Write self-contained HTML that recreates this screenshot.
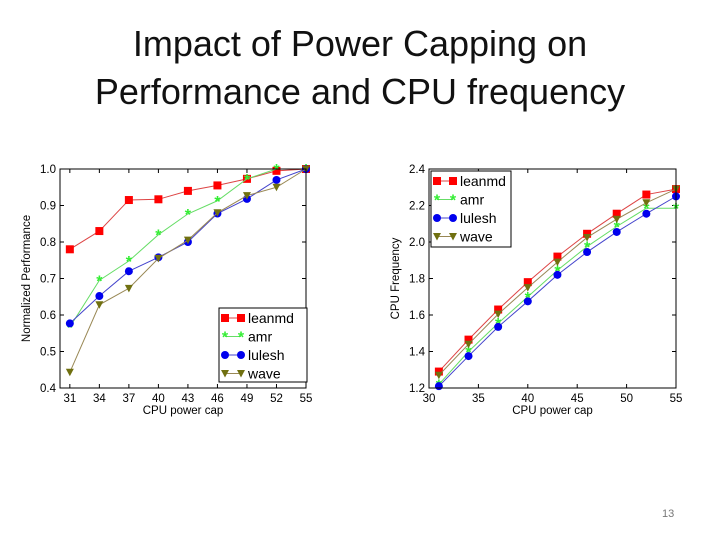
<!DOCTYPE html>
<html><head><meta charset="utf-8"><style>
body{margin:0;background:#fff;width:720px;height:540px;overflow:hidden;font-family:"Liberation Sans",sans-serif}
.t{position:absolute;left:0;width:720px;text-align:center;font-size:36px;color:#111}
</style></head><body>
<div class="t" style="top:20px;line-height:48px">Impact of Power Capping on<br>Performance and CPU frequency</div>
<div style="position:absolute;left:662px;top:508px;font-size:11px;color:#777">13</div>
<svg id="s" width="720" height="540" style="position:absolute;left:0;top:0"></svg>
<script>
const caps=[31,34,37,40,43,46,49,52,55];
const seriesNames=["leanmd","amr","lulesh","wave"];
const perfLeanmd=[0.78,0.83,0.915,0.917,0.94,0.955,0.973,0.995,1.0];
const perfAmr=[0.567,0.695,0.748,0.82,0.877,0.913,0.973,1.0,1.0];
const perfLulesh=[0.577,0.652,0.72,0.758,0.80,0.878,0.918,0.97,1.0];
const perfWave=[0.443,0.628,0.673,0.755,0.805,0.88,0.927,0.95,1.0];
const freqLeanmd=[1.29,1.465,1.63,1.78,1.92,2.045,2.155,2.26,2.29];
const freqAmr=[1.22,1.40,1.555,1.70,1.845,1.975,2.085,2.185,2.185];
const freqLulesh=[1.21,1.375,1.535,1.675,1.82,1.945,2.055,2.155,2.25];
const freqWave=[1.27,1.44,1.605,1.75,1.89,2.025,2.125,2.215,2.29];
const perfTicks=["0.4","0.5","0.6","0.7","0.8","0.9","1.0"];
const freqTicks=["1.2","1.4","1.6","1.8","2.0","2.2","2.4"];
const perfXTicks=[31,34,37,40,43,46,49,52,55];
const freqXTicks=[30,35,40,45,50,55];
const colors=["#ff0000","#33ee33","#0000ee","#707010"];
const lineCol=["#dd4444","#66dd66","#4444cc","#998855"];
const svg=document.getElementById('s');
const NS="http://www.w3.org/2000/svg";
function mk(tag,attrs,parent){const e=document.createElementNS(NS,tag);for(const k in attrs)e.setAttribute(k,attrs[k]);(parent||svg).appendChild(e);return e;}
function marker(g,i,x,y){
  if(i===0) return mk('rect',{x:x-4,y:y-4,width:8,height:8,fill:colors[0]},g);
  if(i===1) {const t=mk('text',{x:x,y:y+6,'text-anchor':'middle','font-size':16,'font-weight':'bold',fill:colors[1]},g);t.textContent='*';return t;}
  if(i===2) return mk('circle',{cx:x,cy:y,r:4,fill:colors[2]},g);
  return mk('path',{d:`M${x-4},${y-3.5}L${x+4},${y-3.5}L${x},${y+4}Z`,fill:colors[3]},g);
}
function chart(name,L,R,T,B,ymin,ymax,yt,xt,data,ylabel,leg){
  const g=mk('g',{});
  
  
  const sx=v=>L+(v-30)/(55-30)*(R-L);
  const sy=v=>B-(v-ymin)/(ymax-ymin)*(B-T);
  yt.forEach(s=>{const v=+s,y=sy(v);
    mk('line',{x1:L,x2:L+4,y1:y,y2:y,stroke:'#000'},g);mk('line',{x1:R-4,x2:R,y1:y,y2:y,stroke:'#000'},g);
    const t=mk('text',{x:L-4,y:y+4,'text-anchor':'end','font-size':11.5},g);t.textContent=s;
    });
  xt.forEach(v=>{const x=sx(v);
    mk('line',{x1:x,x2:x,y1:B,y2:B-4,stroke:'#000'},g);mk('line',{x1:x,x2:x,y1:T,y2:T+4,stroke:'#000'},g);
    const t=mk('text',{x:x,y:B+14,'text-anchor':'middle','font-size':11.5},g);t.textContent=v;
    });
  data.forEach((arr,i)=>{
    const p=mk('polyline',{points:arr.map((v,j)=>sx(caps[j])+','+sy(v)).join(' '),fill:'none',stroke:lineCol[i],'stroke-width':1},g);
    
    arr.forEach((v,j)=>{const m=marker(g,i,sx(caps[j]),sy(v));
      });
  });
  mk('rect',{x:L,y:T,width:R-L,height:B-T,fill:'none',stroke:'#000'},g);
  const xl=mk('text',{x:(L+R)/2,y:B+26,'text-anchor':'middle','font-size':11.5},g);xl.textContent='CPU power cap';
  
  const cy=(T+B)/2,cx=L-30;
  const yl=mk('text',{x:cx,y:cy,'text-anchor':'middle','font-size':11.5,transform:`rotate(-90 ${cx} ${cy})`},g);yl.textContent=ylabel;
  
  const [lx,ly,lw,lh]=leg;
  const lg=mk('g',{},g);
  mk('rect',{x:lx,y:ly,width:lw,height:lh,fill:'#fff',stroke:'#000'},lg);
  seriesNames.forEach((n,i)=>{const y=ly+10+i*18.5;
    mk('line',{x1:lx+6,x2:lx+22,y1:y,y2:y,stroke:lineCol[i]},lg);
    marker(lg,i,lx+6,y);marker(lg,i,lx+22,y);
    const t=mk('text',{x:lx+29,y:y+5,'font-size':14},lg);t.textContent=n;
    });
}
chart('performance-chart',60,306,169,388,0.4,1.0,perfTicks,perfXTicks,[perfLeanmd,perfAmr,perfLulesh,perfWave],'Normalized Performance',[219,308,88,74]);
chart('frequency-chart',429,676,169,388,1.2,2.4,freqTicks,freqXTicks,[freqLeanmd,freqAmr,freqLulesh,freqWave],'CPU Frequency',[431,171,80,76]);
</script>
</body></html>
